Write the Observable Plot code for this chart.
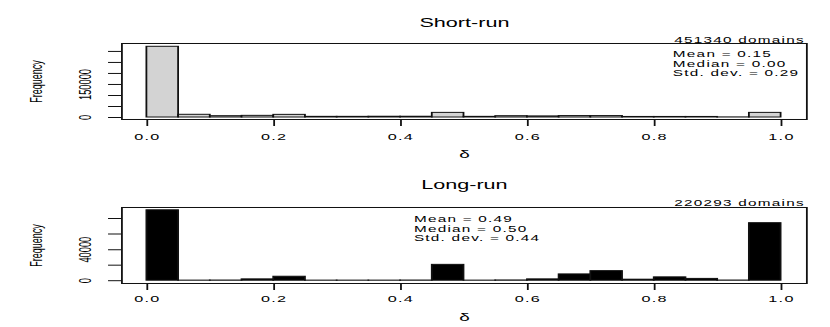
<!DOCTYPE html>
<html>
<head>
<meta charset="utf-8">
<script src="https://cdn.jsdelivr.net/npm/d3@7"></script>
<script src="https://cdn.jsdelivr.net/npm/@observablehq/plot@0.6"></script>
<style>
  html, body { margin: 0; padding: 0; background: #fff; }
  #chart { width: 830px; height: 327px; overflow: hidden; background: #fff; }
  #chart svg { display: block; }
</style>
</head>
<body>
<div id="chart"></div>
<script>
// ---- data ----
const binStarts = [0.00, 0.05, 0.10, 0.15, 0.20, 0.25, 0.30, 0.35, 0.40, 0.45,
                   0.50, 0.55, 0.60, 0.65, 0.70, 0.75, 0.80, 0.85, 0.90, 0.95];
const binWidth = 0.05;
const shortRunCounts = [321000, 12300, 6000, 7500, 12000, 3000, 3000, 3500, 3500, 21000,
                        3000, 6000, 5000, 6500, 6500, 2500, 2500, 2500, 500, 21000];
const longRunCounts = [90700, 100, 200, 1700, 5100, 100, 100, 100, 200, 20400,
                       100, 300, 1700, 8100, 12300, 1300, 4300, 2300, 200, 74100];
const xTicks = [0, 0.2, 0.4, 0.6, 0.8, 1.0];
const xTickLabels = ["0.0", "0.2", "0.4", "0.6", "0.8", "1.0"];
const shortYTicks = [0, 50000, 100000, 150000, 200000, 250000, 300000];
const shortYLabels = [0, 150000];
const longYTicks = [0, 20000, 40000, 60000, 80000];
const longYLabels = [0, 40000];
const panelTitles = ["Short-run", "Long-run"];
const domainCounts = ["451340 domains", "220293 domains"];
const shortStats = ["Mean = 0.15", "Median = 0.00", "Std. dev. = 0.29"];
const longStats = ["Mean = 0.49", "Median = 0.50", "Std. dev. = 0.44"];
const xLabel = "δ";
const yLabel = "Frequency";

// ---- layout ----
const S = 1.8;                 // horizontal stretch of the original figure
const FONT = "'Liberation Sans', Arial, Helvetica, sans-serif";
const LEFT = 121, RIGHT = 24;  // screen px

function panel(o) {
  const bins = binStarts.map((x0, i) => ({x1: x0, x2: x0 + binWidth, y: o.counts[i]}));
  const frameW = (830 - LEFT - RIGHT) / S;
  const frameH = o.height - o.mTop - o.mBottom;
  const svg = Plot.plot({
    width: 830 / S,
    height: o.height,
    marginLeft: LEFT / S,
    marginRight: RIGHT / S,
    marginTop: o.mTop,
    marginBottom: o.mBottom,
    x: {domain: [-0.04, 1.04], axis: null},
    y: {domain: o.yDomain, axis: null},
    style: {fontFamily: FONT, background: "white", color: "black"},
    marks: [
      Plot.rect(bins, {x1: "x1", x2: "x2", y1: () => 0, y2: "y",
                       fill: o.fill, stroke: "#111", strokeWidth: 1}),
      Plot.frame({stroke: "#111", strokeWidth: 1}),
      // x ticks
      Plot.ruleX(xTicks, {x: d => d, insetTop: frameH, insetBottom: -7, stroke: "#111"}),
      Plot.text(xTicks, {x: d => d, text: (d, i) => xTickLabels[i], frameAnchor: "bottom",
                         lineAnchor: "top", dy: o.tickDy, fontSize: 9}),
      // y ticks
      Plot.ruleY(o.yTicks, {y: d => d, insetLeft: -13 / S, insetRight: frameW, stroke: "#111"}),
      Plot.text(o.yLabels, {y: d => d, text: d => String(d), frameAnchor: "left", rotate: -90,
                            textAnchor: "middle", lineAnchor: "bottom", dx: -31 / S, fontSize: 9.3}),
      // axis titles
      Plot.text([yLabel], {text: d => d, frameAnchor: "left", rotate: -90, textAnchor: "middle",
                           lineAnchor: "bottom", dx: -80 / S, fontSize: 9}),
      Plot.text([xLabel], {text: d => d, frameAnchor: "bottom", lineAnchor: "top",
                           dy: o.xLabDy, fontSize: 10.5}),
      // title
      Plot.text([o.title], {text: d => d, frameAnchor: "top", lineAnchor: "top",
                            dy: o.titleDy, fontSize: 12}),
      // domains count
      Plot.text([o.domains], {text: d => d, frameAnchor: "top-right", textAnchor: "end",
                              lineAnchor: "top", dx: -2 / S, dy: o.domDy, fontSize: 8.5}),
      // stats
      Plot.text([o.stats.join("\n")], {text: d => d, frameAnchor: "top-left", textAnchor: "start",
                                       lineAnchor: "top", dx: (o.statsX - LEFT) / S, dy: o.statsDy,
                                       lineHeight: 1.12, fontSize: 8.5})
    ]
  });
  // the original figure's small labels are widely spaced
  svg.querySelectorAll("text").forEach(t => {
    const tr = t.getAttribute("transform") || "";
    if (panelTitles.includes(t.textContent) || tr.includes("rotate") || t.textContent === xLabel) return;
    t.style.letterSpacing = "0.7px";
  });
  svg.style.transform = `scaleX(${S})`;
  svg.style.transformOrigin = "0 0";
  svg.style.maxWidth = "none";
  return svg;
}

const chart = document.getElementById("chart");
chart.appendChild(panel({
  counts: shortRunCounts, yTicks: shortYTicks, yLabels: shortYLabels,
  yDomain: [-9000, 336000], fill: "#d3d3d3",
  title: panelTitles[0], domains: domainCounts[0], stats: shortStats,
  height: 163, mTop: 43, mBottom: 44,
  tickDy: 14, xLabDy: 31, titleDy: -24.7, domDy: -7, statsX: 672, statsDy: 7
}));
chart.appendChild(panel({
  counts: longRunCounts, yTicks: longYTicks, yLabels: longYLabels,
  yDomain: [-3600, 94300], fill: "#000",
  title: panelTitles[1], domains: domainCounts[1], stats: longStats,
  height: 164, mTop: 44, mBottom: 44,
  tickDy: 12.5, xLabDy: 30, titleDy: -27, domDy: -7.7, statsX: 413, statsDy: 8
}));
</script>
</body>
</html>
